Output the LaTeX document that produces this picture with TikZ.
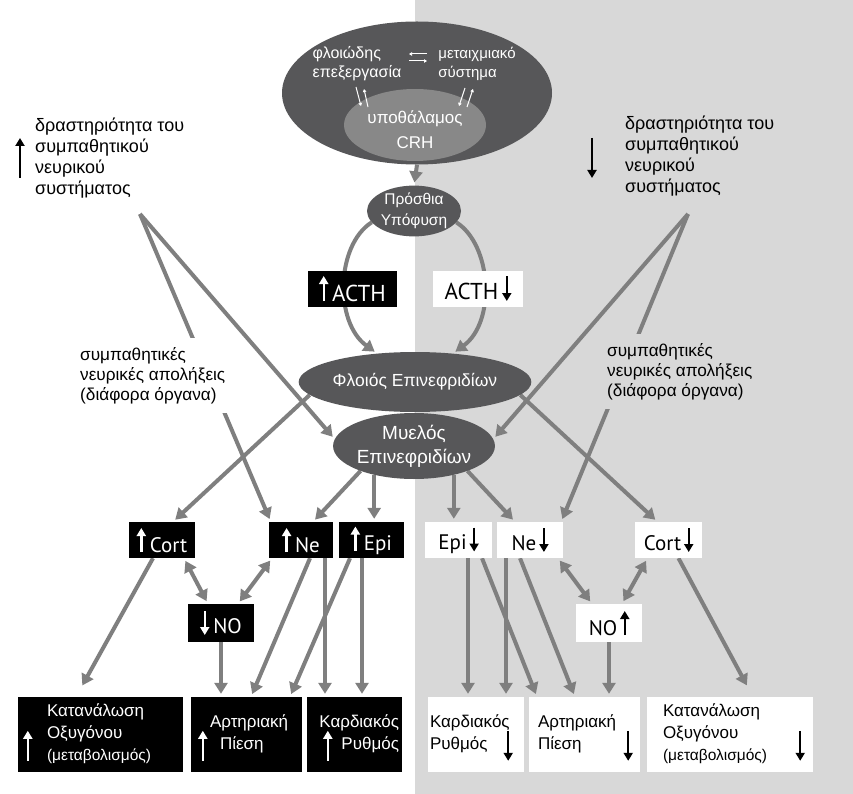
\documentclass[tikz,border=0pt]{standalone}
\usepackage{fontspec}
\setmainfont{Liberation Sans}
\newfontfamily\labfont{PT Sans}
\usetikzlibrary{arrows.meta,positioning,shapes.geometric}
\pgfdeclarelayer{back}
\pgfdeclarelayer{wires}
\pgfsetlayers{back,wires,main}

\definecolor{organgray}{HTML}{575759}
\definecolor{hypgray}{HTML}{888888}
\definecolor{wiregray}{HTML}{7F7F7F}
\definecolor{sidegray}{HTML}{D8D8D8}

% small up / down arrows used inside the labels
\newcommand{\upa}[2][black]{\tikz[baseline=0pt]\draw[#1,line width=2.4pt,-{Triangle[length=8pt,width=9pt]}] (0,0) -- (0,#2);}
\newcommand{\dna}[2][black]{\tikz[baseline=2pt]\draw[#1,line width=2.4pt,-{Triangle[length=8pt,width=9pt]}] (0,#2) -- (0,0);}

\tikzset{
  >={Triangle[length=11pt,width=13pt]},
  wire/.style={color=wiregray, line width=4pt, ->, shorten >=3pt},
  twoway/.style={wire, <->, shorten <=3pt},
  organ/.style={ellipse, fill=organgray, text=white, inner sep=0pt, align=center},
  upbox/.style={fill=black, text=white, font=\labfont\fontsize{21}{24}\selectfont, minimum height=36pt, inner sep=0pt},
  dnbox/.style={upbox, fill=white, text=black},
  effup/.style={fill=black, text=white, minimum height=75pt, inner xsep=6pt, inner ysep=0pt, align=left, font=\fontsize{17}{22}\selectfont},
  effdn/.style={effup, fill=white, text=black},
  effarr/.style={inner sep=0pt},
  note/.style={inner sep=0pt, align=left, font=\fontsize{18}{21}\selectfont}
}

\begin{document}
\begin{tikzpicture}[x=1pt,y=-1pt]
\useasboundingbox (0,0) rectangle (853,794);
\begin{pgfonlayer}{back}
  \fill[sidegray] (415,0) rectangle (853,794);
\end{pgfonlayer}

% brain
\node[organ, minimum width=270pt, minimum height=143pt] (brain) at (417,93) {};
\node[organ, fill=hypgray, minimum width=142pt, minimum height=72pt] (hyp) at (415,125) {};
\node[note, text=white, align=center, font=\fontsize{17}{25}\selectfont] (hypText) at (415,130) {υποθάλαμος\\CRH};
\node[note, text=white, font=\fontsize{16}{19}\selectfont] (cortical) at (357,64) {φλοιώδης\\επεξεργασία};
\node[note, text=white, font=\fontsize{15}{19}\selectfont] (limbic) at (477,64) {μεταιχμιακό\\σύστημα};
\draw[white, line width=1pt, -{Triangle[length=3pt,width=3.5pt]}] (427,54) -- (409,54);
\draw[white, line width=1pt, -{Triangle[length=3pt,width=3.5pt]}] (409,61) -- (427,61);
\draw[white, line width=1pt, -{Triangle[length=3pt,width=3.5pt]}] (356,87) -- (361,106);
\draw[white, line width=1pt, -{Triangle[length=3pt,width=3.5pt]}] (368,107) -- (364,89);
\draw[white, line width=1pt, -{Triangle[length=3pt,width=3.5pt]}] (465,88) -- (459,106);
\draw[white, line width=1pt, -{Triangle[length=3pt,width=3.5pt]}] (467,107) -- (473,89);

% pituitary and adrenal
\node[organ, minimum width=94pt, minimum height=48pt, font=\fontsize{15.5}{21}\selectfont] (pit) at (414,211) {Πρόσθια\\Υπόφυση};
\node[upbox, minimum width=89pt, font=\labfont\fontsize{23}{26}\selectfont] (acthUp) at (352.5,288.5) {\upa[white]{25pt}\hspace{4pt}ACTH};
\node[dnbox, minimum width=90pt, font=\labfont\fontsize{23}{26}\selectfont] (acthDn) at (478,288.5) {ACTH\hspace{4pt}\dna{25pt}};
\node[organ, minimum width=226pt, minimum height=60pt, font=\fontsize{17.5}{20}\selectfont] (ctx) at (415,382) {Φλοιός Επινεφριδίων};
\node[organ, minimum width=134pt, minimum height=66pt, font=\fontsize{19}{24}\selectfont] (med) at (414,446) {Μυελός\\Επινεφριδίων};

% sympathetic activity
\node[note, anchor=north west] (symUp) at (35,118) {δραστηριότητα του\\συμπαθητικού\\νευρικού\\συστήματος};
\node (symUpArr) at (20,158) {\upa{40pt}};
\node[note, anchor=north west] (symDn) at (625,116) {δραστηριότητα του\\συμπαθητικού\\νευρικού\\συστήματος};
\node (symDnArr) at (592,158) {\dna{40pt}};
\coordinate (symUpFoot) at (140,214);
\coordinate (symDnFoot) at (688,214);
\node[note, fill=white, inner xsep=2pt, inner ysep=9pt, anchor=north west, font=\fontsize{17.2}{20}\selectfont] (nerveUp) at (78,338) {συμπαθητικές\\νευρικές απολήξεις\\(διάφορα όργανα)};
\node[note, fill=sidegray, inner xsep=2pt, inner ysep=9pt, anchor=north west, font=\fontsize{17.2}{20}\selectfont] (nerveDn) at (605,334) {συμπαθητικές\\νευρικές απολήξεις\\(διάφορα όργανα)};

% hormones
\node[upbox, minimum width=66pt] (cortUp) at (162,540) {\upa[white]{24pt}\hspace{4pt}Cort};
\node[upbox, minimum width=64pt] (neUp) at (301,540) {\upa[white]{24pt}\hspace{4pt}Ne};
\node[upbox, minimum width=65pt] (epiUp) at (371.5,540) {\upa[white]{24pt}\hspace{4pt}Epi};
\node[upbox, minimum width=66pt, minimum height=38pt] (noUp) at (221,623) {\dna[white]{24pt}\hspace{4pt}NO};
\node[dnbox, minimum width=67pt] (epiDn) at (458.5,540) {Epi\hspace{3pt}\dna{24pt}};
\node[dnbox, minimum width=66pt] (neDn) at (530,540) {Ne\hspace{3pt}\dna{24pt}};
\node[dnbox, minimum width=67pt] (cortDn) at (668.5,540) {Cort\hspace{3pt}\dna{24pt}};
\node[dnbox, minimum width=66pt, minimum height=38pt] (noDn) at (609,623) {NO\hspace{3pt}\upa{24pt}};

% effects
\node[effup, text width=153pt] (oxyUp) at (100.5,734.5) {\hspace{23pt}\begin{tabular}{@{}l@{}}Κατανάλωση\\Οξυγόνου\\{\fontsize{15.5}{18}\selectfont (μεταβολισμός)}\end{tabular}};
\node[effup, text width=99pt] (bpUp) at (246.5,734.5) {\hspace{13pt}\raisebox{5pt}{\begin{tabular}{@{}l@{}}Αρτηριακή\\\hspace{10pt}Πίεση\end{tabular}}};
\node[effup, text width=89pt, inner xsep=3pt, align=right] (hrUp) at (354.5,734.5) {\begin{tabular}{@{}r@{}}Καρδιακός\\Ρυθμός\end{tabular}};
\node[effdn, text width=92pt, inner xsep=2pt] (hrDn) at (476,734.5) {\begin{tabular}{@{}l@{}}Καρδιακός\\Ρυθμός\end{tabular}};
\node[effdn, text width=99pt] (bpDn) at (584.5,734.5) {\hspace{3pt}\begin{tabular}{@{}l@{}}Αρτηριακή\\Πίεση\end{tabular}};
\node[effdn, text width=154pt] (oxyDn) at (730,734.5) {\hspace{10pt}\begin{tabular}{@{}l@{}}Κατανάλωση\\Οξυγόνου\\{\fontsize{15.5}{18}\selectfont (μεταβολισμός)}\end{tabular}};
\node[effarr, anchor=south] (oxyUpArr) at ([xshift=10pt,yshift=10pt]oxyUp.south west) {\upa[white]{30pt}};
\node[effarr, anchor=south] (bpUpArr) at ([xshift=12pt,yshift=10pt]bpUp.south west) {\upa[white]{30pt}};
\node[effarr, anchor=south] (hrUpArr) at ([xshift=21pt,yshift=10pt]hrUp.south west) {\upa[white]{30pt}};
\node[effarr, anchor=south] (hrDnArr) at ([xshift=-16pt,yshift=10pt]hrDn.south east) {\dna{30pt}};
\node[effarr, anchor=south] (bpDnArr) at ([xshift=-12pt,yshift=10pt]bpDn.south east) {\dna{30pt}};
\node[effarr, anchor=south] (oxyDnArr) at ([xshift=-13pt,yshift=10pt]oxyDn.south east) {\dna{30pt}};

\coordinate (neUpV) at ([xshift=24pt]neUp.south);
\coordinate (epiUpV) at ([xshift=-9.5pt]epiUp.south);
\coordinate (epiDnV) at ([xshift=9.5pt]epiDn.south);
\coordinate (neDnV) at ([xshift=-24pt]neDn.south);

\begin{pgfonlayer}{wires}
\draw[wire] (pit.195) .. controls (336,245) and (334,322) .. (ctx.143);
\draw[wire] (pit.-15) .. controls (492,245) and (496,322) .. (ctx.37);
\path[wire]
  (brain.south) edge (pit.north)
  (symUpFoot) edge (med.175)
  (symUpFoot) edge ([xshift=2pt]neUp.north west)
  (symDnFoot) edge (med.5)
  (symDnFoot) edge ([xshift=-2pt]neDn.north east)
  (ctx.187) edge ([xshift=11pt]cortUp.north)
  (ctx.-7) edge ([xshift=-11pt]cortDn.north)
  (med.205) edge ([xshift=12pt]neUp.north)
  (med.216) edge (med.216 |- epiUp.north)
  (med.-36) edge (med.-36 |- epiDn.north)
  (med.-25) edge ([xshift=-15pt]neDn.north);
\path[twoway]
  ([xshift=22pt]cortUp.south) edge ([xshift=-13pt]noUp.north)
  ([xshift=-29pt]neUp.south) edge ([xshift=17pt]noUp.north)
  ([xshift=28pt]neDn.south) edge ([xshift=-17pt]noDn.north)
  ([xshift=-21pt]cortDn.south) edge ([xshift=13pt]noDn.north);
\path[wire]
  ([xshift=-9pt]cortUp.south) edge[shorten >=13pt] ([xshift=-24.5pt]oxyUp.north)
  (noUp) edge (noUp.center |- bpUp.north)
  ([xshift=9pt]neUp.south) edge ([xshift=4.5pt]bpUp.north)
  (neUpV) edge (neUpV |- hrUp.north)
  ([xshift=-21.5pt]epiUp.south) edge ([xshift=43.5pt]bpUp.north)
  (epiUpV) edge (epiUpV |- hrUp.north)
  (epiDnV) edge (epiDnV |- hrDn.north)
  (neDnV) edge (neDnV |- hrDn.north)
  ([xshift=23.5pt]epiDn.south) edge ([xshift=-47.5pt]bpDn.north)
  ([xshift=-10pt]neDn.south) edge ([xshift=-9.5pt]bpDn.north)
  (noDn) edge (noDn.center |- bpDn.north)
  ([xshift=10pt]cortDn.south) edge[shorten >=13pt] ([xshift=23pt]oxyDn.north);
\end{pgfonlayer}
\end{tikzpicture}
\end{document}
